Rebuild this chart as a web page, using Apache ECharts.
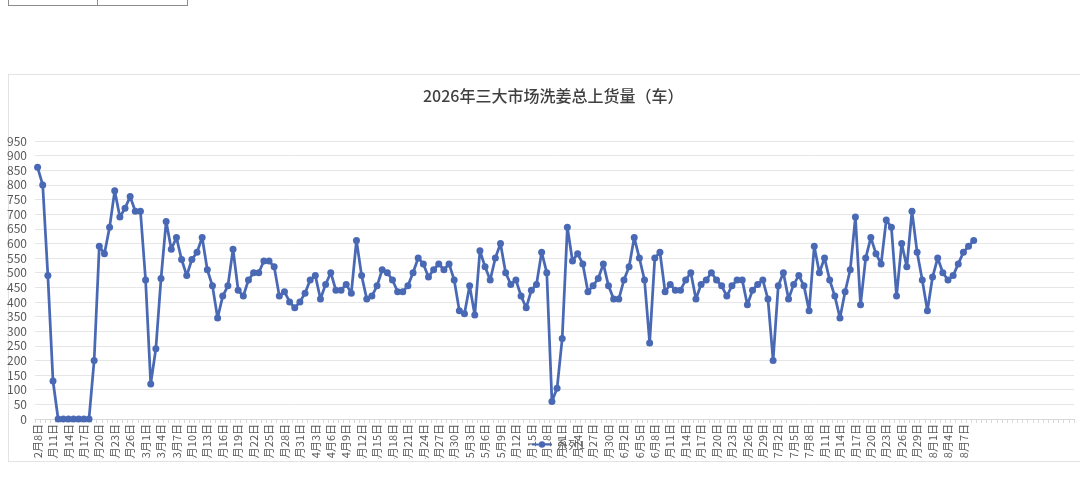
<!DOCTYPE html>
<html>
<head>
<meta charset="utf-8">
<script src="https://cdn.jsdelivr.net/npm/echarts@6/dist/echarts.min.js"></script>
<style>
  html, body { margin: 0; padding: 0; background: #fff; }
  #wrap { position: relative; width: 1080px; height: 492px; overflow: hidden; }
  #frame { position: absolute; left: 8px; top: 74px; width: 1090px; height: 386px; border: 1px solid #e3e3e3; }
  #cell { position: absolute; left: 8px; top: -12px; width: 178px; height: 16px; border: 1px solid #8c8c8c; }
  #cell div { position: absolute; left: 88px; top: 0; width: 0; height: 16px; border-left: 1px solid #8c8c8c; }
  #main { position: absolute; left: 0; top: 0; width: 1080px; height: 459px; }
</style>
</head>
<body>
<div id="wrap">
  <div id="cell"><div></div></div>
  <div id="frame"></div>
  <div id="main"></div>
</div>
<script>
// ========== 数据 ==========
const titleText = "2026年三大市场洗姜总上货量（车）";
const seriesName = "系列1";

// 每日上货量（2月8日起）
const loadData = [
  860, 800, 490, 130, 0, 0, 0, 0, 0, 0, 0, 200, 590, 565, 655, 780, 690, 720, 760, 710,
  710, 475, 120, 240, 480, 675, 580, 620, 545, 490, 545, 570, 620, 510, 455, 345, 420, 455, 580, 440,
  420, 475, 500, 500, 540, 540, 520, 420, 435, 400, 380, 400, 430, 475, 490, 410, 460, 500, 440, 440,
  460, 430, 610, 490, 410, 420, 455, 510, 500, 475, 435, 435, 455, 500, 550, 530, 485, 510, 530, 510,
  530, 475, 370, 360, 455, 355, 575, 520, 475, 550, 600, 500, 460, 475, 420, 380, 440, 460, 570, 500,
  60, 105, 275, 655, 540, 565, 530, 435, 455, 480, 530, 455, 410, 410, 475, 520, 620, 550, 475, 260,
  550, 570, 435, 460, 440, 440, 475, 500, 410, 460, 475, 500, 475, 455, 420, 455, 475, 475, 390, 440,
  460, 475, 410, 200, 455, 500, 410, 460, 490, 455, 370, 590, 500, 550, 475, 420, 345, 435, 510, 690,
  390, 550, 620, 565, 530, 680, 655, 420, 600, 520, 710, 570, 475, 370, 485, 550, 500, 475, 490, 530,
  570, 590, 610,
];

// 日期类目：2月8日起逐日，之后是空白行
const startMonth = 2;
const startDay = 8;
const blankRows = 19;
const daysInMonth = [31, 28, 31, 30, 31, 30, 31, 31, 30, 31, 30, 31];
const dates = [];
{
  let m = startMonth, d = startDay;
  for (let i = 0; i < loadData.length; i++) {
    dates.push(m + "月" + d + "日");
    d++;
    if (d > daysInMonth[m - 1]) { d = 1; m++; }
  }
  for (let i = 0; i < blankRows; i++) dates.push("");
}

// ========== 折线图 ==========
const chart = echarts.init(document.getElementById("main"));
const font = "'Noto Sans CJK SC', 'Noto Sans', sans-serif";

chart.setOption({
  animation: false,
  title: {
    text: titleText,
    left: 418,
    top: 83,
    textStyle: { fontSize: 16, fontWeight: 500, color: "#404040", fontFamily: font },
  },
  legend: {
    data: [seriesName],
    left: 526,
    top: 434,
    itemWidth: 20,
    itemHeight: 8,
    itemGap: 4,
    textStyle: { fontSize: 11, color: "#595959", fontFamily: font },
  },
  grid: { left: 35, right: 6, top: 141, bottom: 40, containLabel: false, outerBoundsMode: "none" },
  xAxis: {
    type: "category",
    data: dates,
    boundaryGap: true,
    axisLine: { lineStyle: { color: "#d9d9d9" } },
    axisTick: { show: true, interval: 0, length: 4, lineStyle: { color: "#d9d9d9" } },
    axisLabel: {
      interval: 2,
      rotate: 90,
      margin: 5,
      fontSize: 11,
      color: "#595959",
      fontFamily: font,
    },
  },
  yAxis: {
    type: "value",
    min: 0,
    max: 950,
    interval: 50,
    axisLine: { show: false },
    axisTick: { show: false },
    axisLabel: { fontSize: 12, color: "#595959", margin: 8, fontFamily: font },
    splitLine: { lineStyle: { color: "#e6e6e6" } },
  },
  series: [
    {
      name: seriesName,
      type: "line",
      data: loadData,
      symbol: "circle",
      symbolSize: 7,
      showAllSymbol: true,
      lineStyle: { width: 2.75, color: "#4a69b5" },
      itemStyle: { color: "#4a69b5" },
    },
  ],
});

window.addEventListener("resize", () => chart.resize());
</script>
</body>
</html>
